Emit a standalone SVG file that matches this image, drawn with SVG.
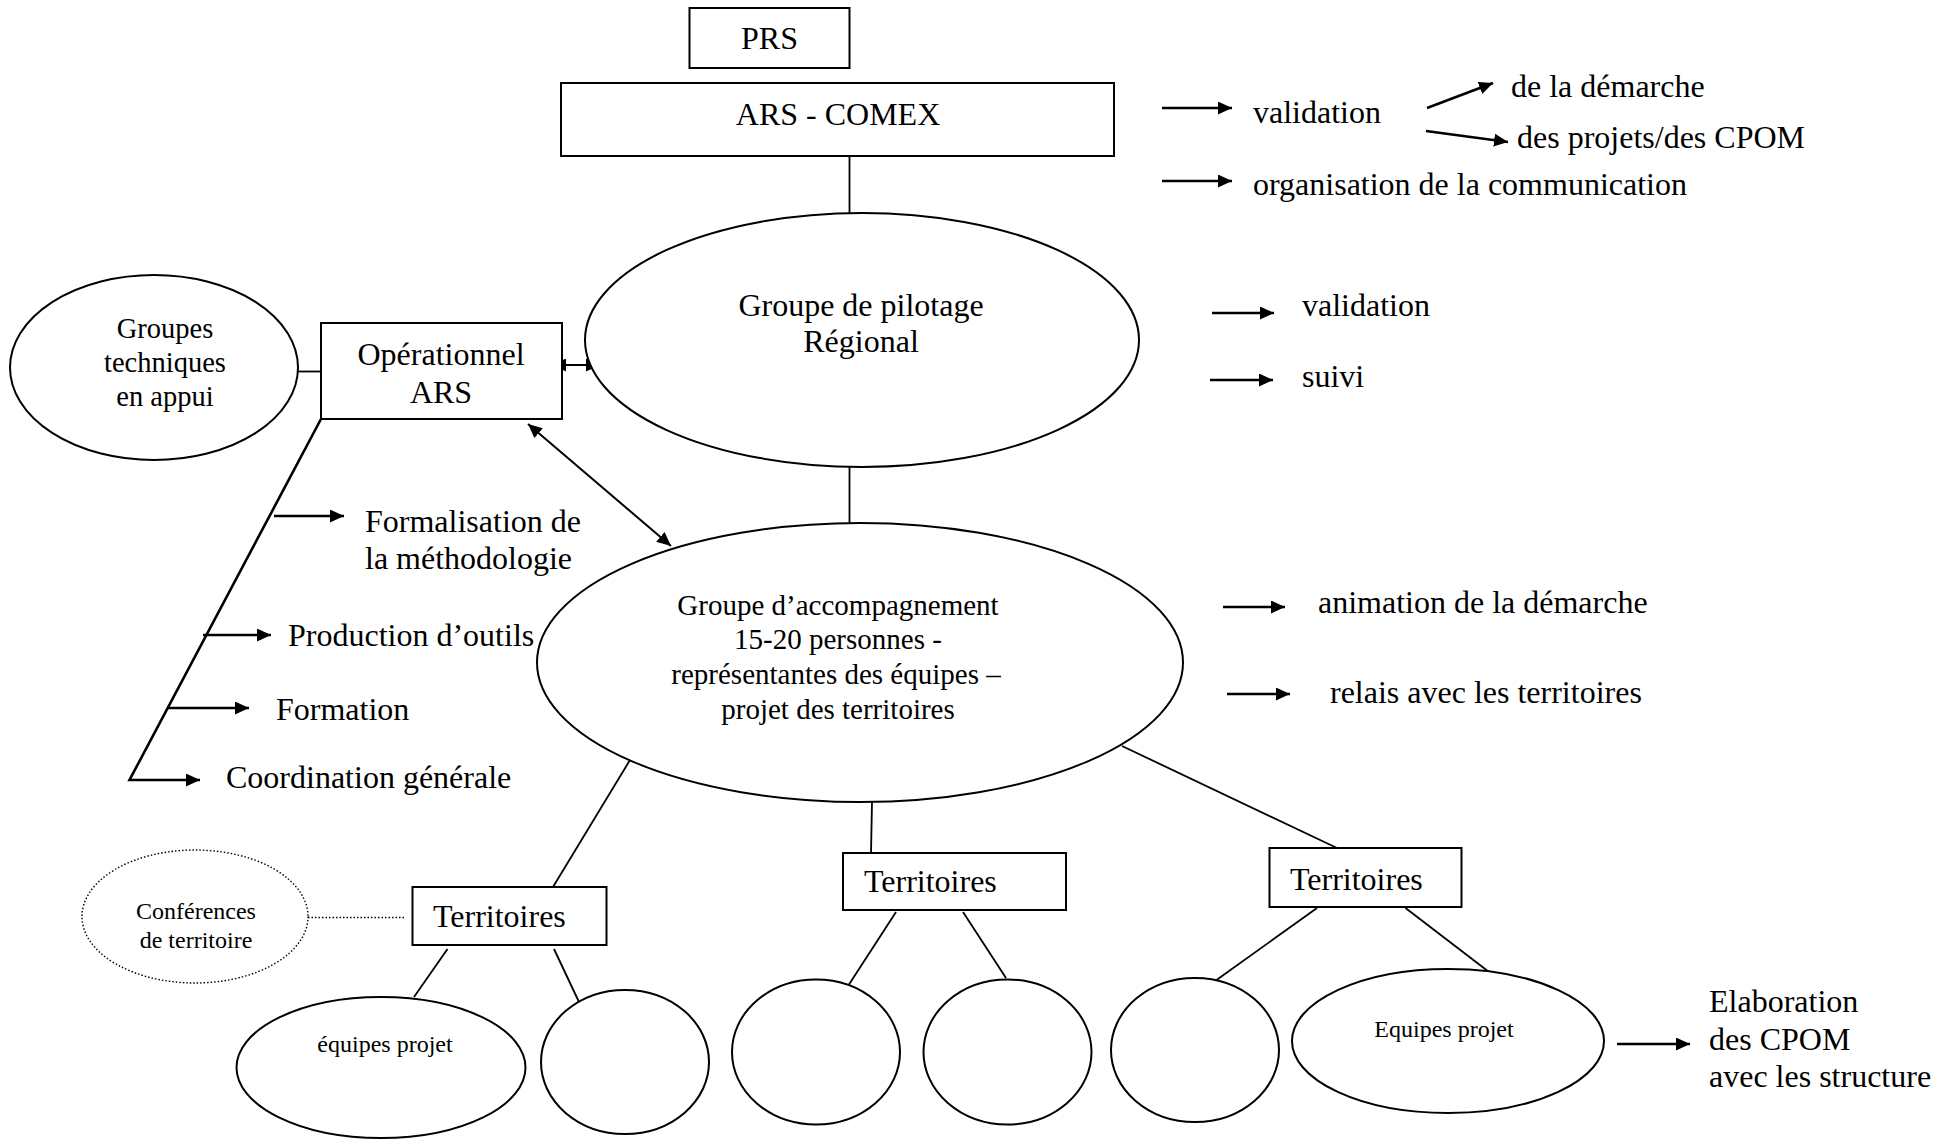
<svg xmlns="http://www.w3.org/2000/svg" width="1956" height="1140" viewBox="0 0 1956 1140">
<style>
.s{fill:#fff;stroke:#000;stroke-width:2}
.l{fill:none;stroke:#000;stroke-width:1.8}
.a{fill:none;stroke:#000;stroke-width:2.6;marker-end:url(#ah)}
.d{fill:none;stroke:#000;stroke-width:2;marker-start:url(#ah);marker-end:url(#ah)}
.dot{fill:none;stroke:#000;stroke-width:1.4;stroke-dasharray:1.5 2}
text{font-family:"Liberation Serif","Times New Roman",serif;font-size:32px;fill:#000}
.c{text-anchor:middle}
.sm{font-size:24px}
.md{font-size:29px}
.gt{font-size:28.5px}
</style>
<defs>
<marker id="ah" markerUnits="userSpaceOnUse" markerWidth="15" markerHeight="13" refX="14" refY="6.5" orient="auto-start-reverse">
<path d="M0,0 L14,6.5 L0,13 z" fill="#000"/>
</marker>
</defs>
<g id="connectors">
<line class="l" x1="849.5" y1="156" x2="849.5" y2="213"/>
<line class="l" x1="849.5" y1="467" x2="849.5" y2="523"/>
<line class="l" x1="298" y1="371.5" x2="321" y2="371.5"/>
<polyline class="a" points="321,419 129.5,780 200,780"/>
<line class="a" x1="274" y1="516" x2="344" y2="516"/>
<line class="a" x1="203" y1="635" x2="271" y2="635"/>
<line class="a" x1="168" y1="708" x2="249" y2="708"/>
<line class="d" x1="552" y1="365" x2="600" y2="365"/>
<line class="d" x1="528" y1="424" x2="671" y2="546"/>
<line class="a" x1="1162" y1="108" x2="1232" y2="108"/>
<line class="a" x1="1162" y1="181" x2="1232" y2="181"/>
<line class="a" x1="1427" y1="108" x2="1493" y2="83"/>
<line class="a" x1="1426" y1="131" x2="1508" y2="142"/>
<line class="a" x1="1212" y1="313" x2="1274" y2="313"/>
<line class="a" x1="1210" y1="380" x2="1273" y2="380"/>
<line class="a" x1="1223" y1="607" x2="1285" y2="607"/>
<line class="a" x1="1227" y1="694" x2="1290" y2="694"/>
<line class="a" x1="1617" y1="1044" x2="1690" y2="1044"/>
<line class="l" x1="630" y1="760" x2="553" y2="887"/>
<line class="l" x1="872" y1="802" x2="871" y2="853"/>
<line class="l" x1="1122" y1="746" x2="1337" y2="848"/>
<line class="dot" x1="308" y1="917.5" x2="406" y2="917.5"/>
<line class="l" x1="447.5" y1="949" x2="414" y2="997"/>
<line class="l" x1="554" y1="949" x2="579" y2="1002"/>
<line class="l" x1="896" y1="912" x2="848" y2="986"/>
<line class="l" x1="963" y1="912" x2="1006" y2="978"/>
<line class="l" x1="1317" y1="908" x2="1216.5" y2="980"/>
<line class="l" x1="1405.5" y1="908" x2="1491" y2="973.5"/>
</g>
<g id="prs"><rect class="s" x="689.5" y="8" width="160" height="60"/><text class="c" x="769.5" y="49">PRS</text></g>
<g id="comex"><rect class="s" x="561" y="83" width="553" height="73"/><text class="c" x="838" y="125">ARS - COMEX</text></g>
<g id="comex-notes">
<text x="1253" y="123">validation</text>
<text x="1511" y="97">de la démarche</text>
<text x="1517" y="148">des projets/des CPOM</text>
<text x="1253" y="195">organisation de la communication</text>
</g>
<g id="pilotage"><ellipse class="s" cx="862" cy="340" rx="277" ry="127"/><text class="c" x="861" y="316">Groupe de pilotage</text><text class="c" x="861" y="352">Régional</text></g>
<g id="pilotage-notes"><text x="1302" y="316">validation</text><text x="1302" y="387">suivi</text></g>
<g id="groupes-techniques"><ellipse class="s" cx="154" cy="367.5" rx="144" ry="92.5"/><text class="c gt" x="165" y="338">Groupes</text><text class="c gt" x="165" y="372">techniques</text><text class="c gt" x="165" y="406">en appui</text></g>
<g id="operationnel"><rect class="s" x="321" y="323" width="241" height="96"/><text class="c" x="441" y="365">Opérationnel</text><text class="c" x="441" y="403">ARS</text></g>
<g id="operationnel-notes">
<text x="365" y="532">Formalisation de</text>
<text x="365" y="569">la méthodologie</text>
<text x="288" y="646">Production d’outils</text>
<text x="276" y="720">Formation</text>
<text x="226" y="788">Coordination générale</text>
</g>
<g id="accompagnement"><ellipse class="s" cx="860" cy="662.5" rx="323" ry="139.5"/>
<text class="c md" x="838" y="615">Groupe d’accompagnement</text>
<text class="c md" x="838" y="649">15-20 personnes -</text>
<text class="c md" x="836" y="684">représentantes des équipes –</text>
<text class="c md" x="838" y="719">projet des territoires</text>
</g>
<g id="accompagnement-notes"><text x="1318" y="613">animation de la démarche</text><text x="1330" y="703">relais avec les territoires</text></g>
<g id="conferences"><ellipse cx="195" cy="916.5" rx="113" ry="66.5" class="dot"/><text class="c sm" x="196" y="919">Conférences</text><text class="c sm" x="196" y="948">de territoire</text></g>
<g id="territoires-1"><rect class="s" x="412.5" y="887" width="194" height="58"/><text x="433" y="927">Territoires</text></g>
<g id="territoires-2"><rect class="s" x="843" y="853" width="223" height="57"/><text x="864" y="892">Territoires</text></g>
<g id="territoires-3"><rect class="s" x="1269.5" y="848" width="192" height="59"/><text x="1290" y="890">Territoires</text></g>
<g id="equipes-1"><ellipse class="s" cx="381" cy="1067.5" rx="144.5" ry="70.5"/><text class="c sm" x="385" y="1052">équipes projet</text></g>
<g id="equipe-b"><ellipse class="s" cx="625" cy="1062" rx="84" ry="72"/></g>
<g id="equipe-c"><ellipse class="s" cx="816" cy="1052" rx="84" ry="72.5"/></g>
<g id="equipe-d"><ellipse class="s" cx="1007.5" cy="1052" rx="84" ry="72.5"/></g>
<g id="equipe-e"><ellipse class="s" cx="1195" cy="1050" rx="84" ry="72"/></g>
<g id="equipes-2"><ellipse class="s" cx="1448" cy="1041" rx="156" ry="72"/><text class="c sm" x="1444" y="1037">Equipes projet</text></g>
<g id="elaboration"><text x="1709" y="1012">Elaboration</text><text x="1709" y="1050">des CPOM</text><text x="1709" y="1087">avec les structure</text></g>
</svg>
